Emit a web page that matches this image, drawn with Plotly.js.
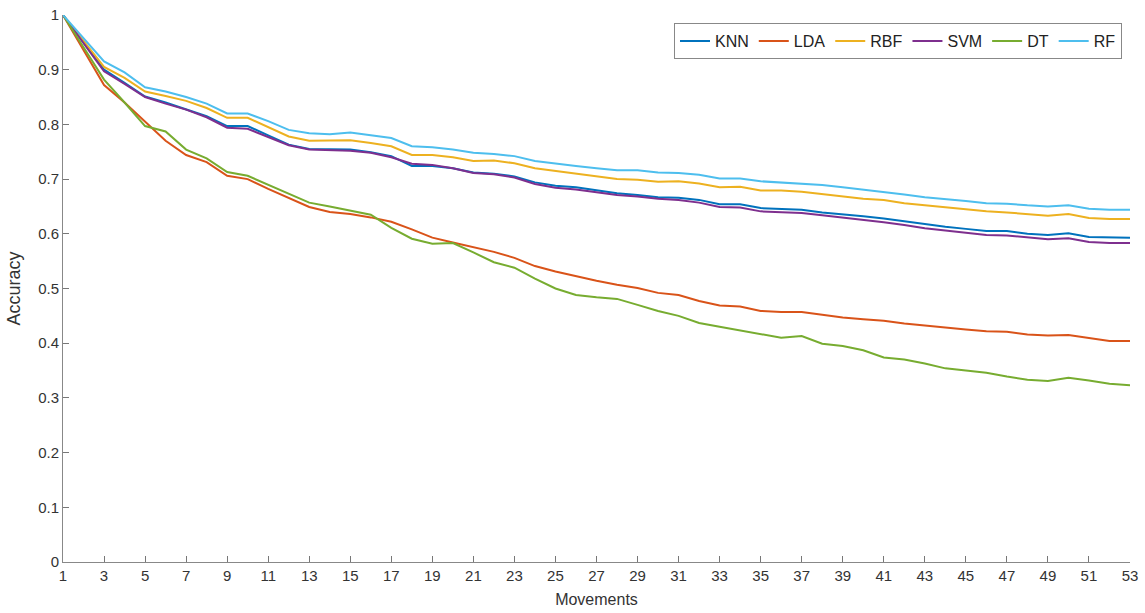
<!DOCTYPE html>
<html>
<head>
<meta charset="utf-8">
<script src="https://cdn.plot.ly/plotly-3.0.1.min.js"></script>
<style>html,body{margin:0;padding:0;background:#fff;}#chart{width:1145px;height:613px;}</style>
</head>
<body>
<div id="chart"></div>
<script>
const movements = Array.from({length: 53}, (_, i) => i + 1);
const knn = [1,0.95,0.9,0.876,0.851,0.84,0.828,0.815,0.797,0.797,0.78,0.763,0.755,0.754,0.754,0.749,0.742,0.724,0.724,0.72,0.712,0.71,0.705,0.694,0.688,0.685,0.679,0.674,0.671,0.667,0.666,0.662,0.654,0.654,0.647,0.646,0.644,0.639,0.636,0.632,0.628,0.623,0.617,0.613,0.609,0.605,0.605,0.6,0.598,0.601,0.594,0.593,0.593];
const lda = [1,0.935,0.872,0.84,0.805,0.77,0.744,0.731,0.706,0.7,0.682,0.665,0.649,0.64,0.636,0.63,0.622,0.608,0.593,0.584,0.576,0.567,0.556,0.541,0.531,0.522,0.514,0.507,0.501,0.492,0.488,0.477,0.469,0.467,0.459,0.457,0.457,0.452,0.447,0.444,0.441,0.436,0.432,0.428,0.425,0.422,0.421,0.416,0.414,0.415,0.409,0.404,0.404];
const rbf = [1,0.952,0.905,0.885,0.86,0.852,0.843,0.83,0.812,0.812,0.795,0.778,0.77,0.77,0.771,0.766,0.76,0.744,0.744,0.74,0.733,0.734,0.729,0.72,0.715,0.71,0.705,0.7,0.699,0.695,0.696,0.692,0.685,0.686,0.679,0.679,0.677,0.673,0.668,0.664,0.662,0.656,0.652,0.648,0.645,0.641,0.639,0.636,0.633,0.636,0.629,0.627,0.627];
const svm = [1,0.948,0.897,0.874,0.85,0.838,0.827,0.813,0.794,0.792,0.777,0.762,0.754,0.753,0.752,0.748,0.74,0.728,0.726,0.72,0.711,0.709,0.703,0.691,0.684,0.681,0.676,0.671,0.668,0.664,0.662,0.657,0.649,0.648,0.641,0.64,0.638,0.634,0.63,0.626,0.621,0.616,0.61,0.606,0.602,0.598,0.597,0.593,0.59,0.592,0.585,0.583,0.583];
const dt = [1,0.94,0.882,0.84,0.797,0.787,0.754,0.738,0.713,0.706,0.69,0.673,0.657,0.65,0.643,0.635,0.611,0.591,0.582,0.583,0.566,0.548,0.538,0.518,0.5,0.488,0.484,0.481,0.47,0.459,0.45,0.437,0.43,0.423,0.416,0.41,0.413,0.399,0.395,0.387,0.374,0.37,0.363,0.354,0.35,0.346,0.339,0.333,0.331,0.337,0.332,0.326,0.323];
const rf = [1,0.958,0.915,0.895,0.868,0.86,0.85,0.838,0.82,0.82,0.806,0.79,0.784,0.782,0.785,0.78,0.775,0.76,0.758,0.754,0.748,0.746,0.742,0.733,0.728,0.724,0.72,0.716,0.716,0.712,0.711,0.708,0.701,0.701,0.696,0.694,0.692,0.689,0.685,0.681,0.677,0.672,0.667,0.664,0.66,0.656,0.655,0.652,0.65,0.652,0.646,0.644,0.644];

const seriesNames = ['KNN','LDA','RBF','SVM','DT','RF'];
const seriesData = [knn, lda, rbf, svm, dt, rf];
const colors = ['#0072BD','#D95319','#EDB120','#7E2F8E','#77AC30','#4DBEEE'];

const traces = seriesNames.map((n, i) => ({
  x: movements, y: seriesData[i], name: n, type: 'scatter', mode: 'lines',
  line: {color: colors[i], width: 2}
}));

const layout = {
  width: 1145, height: 613,
  margin: {l: 63, r: 15, t: 15, b: 51},
  paper_bgcolor: '#fff', plot_bgcolor: '#fff',
  font: {family: 'Liberation Sans, Arial, sans-serif', color: '#333'},
  xaxis: {
    range: [1, 53], tickmode: 'linear', tick0: 1, dtick: 2,
    ticks: 'inside', ticklen: 6, tickcolor: '#777', showline: true, linecolor: '#888', linewidth: 1,
    showgrid: false, zeroline: false, mirror: false,
    tickfont: {size: 15, family: 'Liberation Sans Narrow, Liberation Sans, Arial, sans-serif', color: '#333'},
    title: {text: 'Movements', font: {size: 16, color: '#333'}, standoff: 10}
  },
  yaxis: {
    range: [0, 1], tickmode: 'linear', tick0: 0, dtick: 0.1,
    ticks: 'inside', ticklen: 6, tickcolor: '#777', showline: true, linecolor: '#888', linewidth: 1,
    showgrid: false, zeroline: false, mirror: false,
    tickfont: {size: 15, color: '#333'},
    title: {text: 'Accuracy', font: {size: 18, color: '#333'}, standoff: 12}
  },
  legend: {
    orientation: 'h', x: 0.9925, xanchor: 'right', y: 0.985, yanchor: 'top',
    bordercolor: '#888', borderwidth: 1, bgcolor: '#fff',
    font: {size: 16, color: '#222'}, itemwidth: 30, tracegroupgap: 0
  },
  showlegend: true
};

Plotly.newPlot('chart', traces, layout, {staticPlot: true, displayModeBar: false});
</script>
</body>
</html>
